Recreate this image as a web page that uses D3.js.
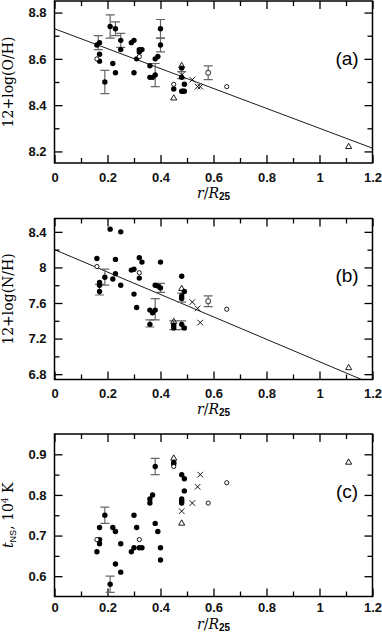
<!DOCTYPE html>
<html><head><meta charset="utf-8">
<script src="https://cdn.jsdelivr.net/npm/d3@7"></script>
<style>
html,body{margin:0;padding:0;background:#fff;}
svg{display:block;}
.tick text{font-family:"Liberation Sans",Arial,sans-serif;font-size:13px;font-weight:bold;fill:#111;}
</style></head>
<body>
<svg id="chart" width="382" height="635"></svg>
<script>
// ---------- data ----------
const xTicks = [0, 0.2, 0.4, 0.6, 0.8, 1, 1.2];
const xMinor = [0.1, 0.3, 0.5, 0.7, 0.9, 1.1];

// panel (a): 12+log(O/H)
const aYTicks = [8.2, 8.4, 8.6, 8.8];
const aYMinor = [8.3, 8.5, 8.7];
const aFilled = [[0.16,8.66],[0.17,8.67],[0.17,8.62],[0.17,8.59],[0.19,8.50],[0.21,8.74],[0.23,8.73],
  [0.22,8.58],[0.23,8.54],[0.25,8.68],[0.25,8.64],[0.29,8.67],[0.30,8.68],[0.30,8.54],[0.31,8.60],
  [0.32,8.63],[0.33,8.64],[0.32,8.64],[0.36,8.57],[0.36,8.52],[0.37,8.52],[0.38,8.53],[0.38,8.60],
  [0.39,8.61],[0.40,8.73],[0.40,8.66],[0.45,8.47],[0.48,8.56],[0.48,8.52],[0.49,8.49],[0.48,8.46],
  [0.485,8.46],[0.49,8.46]];
const aOpen = [[0.16,8.60],[0.32,8.61],[0.45,8.49],[0.65,8.48]];
const aTri = [[0.45,8.43],[0.48,8.57],[1.11,8.22]];
const aCross = [[0.48,8.53],[0.52,8.51],[0.54,8.48],[0.55,8.48]];
const aGray = [[0.58,8.54]];
const aErr = [[0.165,8.67,0.03],[0.19,8.50,0.05],[0.21,8.74,0.05],[0.23,8.73,0.03],[0.25,8.68,0.03],
  [0.38,8.53,0.05],[0.40,8.73,0.04],[0.40,8.66,0.03],[0.48,8.53,0.015],[0.58,8.54,0.03]];
const aFit = [8.73, -0.43];

// panel (b): 12+log(N/H)
const bYTicks = [6.8, 7.2, 7.6, 8, 8.4];
const bYMinor = [7.0, 7.4, 7.8, 8.2];
const bFilled = [[0.16,8.10],[0.17,7.83],[0.17,7.80],[0.17,7.73],[0.19,7.89],[0.21,8.43],[0.25,8.40],
  [0.23,8.09],[0.23,7.93],[0.22,7.87],[0.25,7.80],[0.29,7.97],[0.30,7.98],[0.32,8.11],[0.33,8.06],
  [0.32,7.88],[0.30,7.70],[0.31,7.55],[0.40,8.06],[0.38,7.80],[0.39,7.79],[0.40,7.77],[0.36,7.52],
  [0.37,7.49],[0.38,7.52],[0.36,7.36],[0.45,7.35],[0.45,7.32],[0.48,7.36],[0.49,7.32],[0.48,7.90],
  [0.49,7.73],[0.48,7.68],[0.48,7.65]];
const bOpen = [[0.16,8.01],[0.32,7.94],[0.65,7.53]];
const bTri = [[0.48,7.76],[0.45,7.39],[1.11,6.87]];
const bCross = [[0.52,7.61],[0.54,7.54],[0.55,7.38]];
const bGray = [[0.58,7.62]];
const bErr = [[0.19,7.89,0.09],[0.17,7.75,0.06],[0.40,7.77,0.05],[0.38,7.53,0.12],[0.36,7.37,0.04],
  [0.45,7.35,0.05],[0.48,7.35,0.05],[0.48,7.66,0.05],[0.58,7.62,0.06]];
const bFit = [8.20, -1.26];

// panel (c): t_NS, 10^4 K
const cYTicks = [0.6, 0.7, 0.8, 0.9];
const cYMinor = [0.65, 0.75, 0.85];
const cFilled = [[0.38,0.87],[0.37,0.80],[0.36,0.79],[0.36,0.78],[0.19,0.75],[0.30,0.75],[0.38,0.73],
  [0.17,0.72],[0.22,0.72],[0.23,0.71],[0.31,0.72],[0.39,0.71],[0.17,0.69],[0.17,0.68],[0.16,0.66],
  [0.25,0.68],[0.29,0.66],[0.30,0.67],[0.32,0.67],[0.33,0.67],[0.40,0.67],[0.40,0.64],[0.23,0.63],
  [0.25,0.61],[0.21,0.58],[0.45,0.88],[0.45,0.876],[0.48,0.85],[0.49,0.84],[0.49,0.81],[0.48,0.79],
  [0.48,0.785],[0.48,0.78]];
const cOpen = [[0.16,0.69],[0.32,0.69],[0.45,0.87],[0.58,0.78],[0.65,0.83]];
const cTri = [[0.45,0.89],[0.48,0.73],[1.11,0.88]];
const cCross = [[0.55,0.85],[0.54,0.82],[0.52,0.78],[0.48,0.76]];
const cGray = [];
const cErr = [[0.38,0.87,0.02],[0.19,0.75,0.02],[0.21,0.58,0.02]];

// ---------- drawing ----------
const svg = d3.select("#chart");
const left = 54.5, right = 372.5;
const x = d3.scaleLinear().domain([0, 1.2]).range([left, right]);

const panels = [
  {top: 1, bottom: 163, dom: [8.15, 8.85], yT: aYTicks, yM: aYMinor, filled: aFilled, open: aOpen, tri: aTri,
   cross: aCross, gray: aGray, err: aErr, fit: aFit, tag: "(a)", title: "12+log(O/H)", pad: 10, tpad: 35},
  {top: 218.5, bottom: 379.5, dom: [6.74, 8.55], yT: bYTicks, yM: bYMinor, filled: bFilled, open: bOpen, tri: bTri,
   cross: bCross, gray: bGray, err: bErr, fit: bFit, tag: "(b)", title: "12+log(N/H)", pad: 9, tpad: 34},
  {top: 434, bottom: 596.5, dom: [0.55, 0.95], yT: cYTicks, yM: cYMinor, filled: cFilled, open: cOpen, tri: cTri,
   cross: cCross, gray: cGray, err: cErr, fit: null, tag: "(c)", title: null, pad: 6, tpad: 32}
];

const fmt = v => String(v);

panels.forEach((p, i) => {
  const y = d3.scaleLinear().domain(p.dom).range([p.bottom, p.top]);
  const g = svg.append("g");
  const clipId = "clip" + i;
  svg.append("clipPath").attr("id", clipId).append("rect")
    .attr("x", left).attr("y", p.top).attr("width", right - left).attr("height", p.bottom - p.top);

  // axes (ticks inward)
  const ax = (gen, tr) => {
    const a = g.append("g").attr("transform", tr).call(gen);
    a.select(".domain").remove();
    a.selectAll("line").attr("stroke", "#000").attr("stroke-width", 1.3);
    return a;
  };
  ax(d3.axisBottom(x).tickValues(xTicks).tickSize(-8).tickPadding(p.pad).tickFormat(fmt), `translate(0,${p.bottom})`);
  ax(d3.axisBottom(x).tickValues(xMinor).tickSize(-5).tickFormat(""), `translate(0,${p.bottom})`);
  ax(d3.axisTop(x).tickValues(xTicks).tickSize(-8).tickFormat(""), `translate(0,${p.top})`);
  ax(d3.axisTop(x).tickValues(xMinor).tickSize(-5).tickFormat(""), `translate(0,${p.top})`);
  ax(d3.axisLeft(y).tickValues(p.yT).tickSize(-8).tickPadding(8).tickFormat(fmt), `translate(${left},0)`);
  ax(d3.axisLeft(y).tickValues(p.yM).tickSize(-5).tickFormat(""), `translate(${left},0)`);
  ax(d3.axisRight(y).tickValues(p.yT).tickSize(-8).tickFormat(""), `translate(${right},0)`);
  ax(d3.axisRight(y).tickValues(p.yM).tickSize(-5).tickFormat(""), `translate(${right},0)`);

  g.append("rect").attr("x", left).attr("y", p.top).attr("width", right - left).attr("height", p.bottom - p.top)
    .attr("fill", "none").attr("stroke", "#000").attr("stroke-width", 1.5);

  const plot = g.append("g").attr("clip-path", `url(#${clipId})`);

  // fit line
  if (p.fit) {
    const fx = [0, 1.2];
    plot.append("line")
      .attr("x1", x(fx[0])).attr("y1", y(p.fit[0] + p.fit[1] * fx[0]))
      .attr("x2", x(fx[1])).attr("y2", y(p.fit[0] + p.fit[1] * fx[1]))
      .attr("stroke", "#000").attr("stroke-width", 0.9);
  }

  // error bars
  const eg = plot.append("g").attr("stroke", "#666").attr("stroke-width", 1.2);
  p.err.forEach(([r, v, e]) => {
    const cx = x(r);
    eg.append("line").attr("x1", cx).attr("x2", cx).attr("y1", y(v - e)).attr("y2", y(v + e));
    eg.append("line").attr("x1", cx - 4.5).attr("x2", cx + 4.5).attr("y1", y(v - e)).attr("y2", y(v - e));
    eg.append("line").attr("x1", cx - 4.5).attr("x2", cx + 4.5).attr("y1", y(v + e)).attr("y2", y(v + e));
  });

  // markers
  plot.append("g").selectAll("circle").data(p.filled).join("circle")
    .attr("cx", d => x(d[0])).attr("cy", d => y(d[1])).attr("r", 2.7).attr("fill", "#000");
  plot.append("g").selectAll("circle").data(p.open).join("circle")
    .attr("cx", d => x(d[0])).attr("cy", d => y(d[1])).attr("r", 2.1)
    .attr("fill", "#fff").attr("stroke", "#000").attr("stroke-width", 0.9);
  plot.append("g").selectAll("circle").data(p.gray).join("circle")
    .attr("cx", d => x(d[0])).attr("cy", d => y(d[1])).attr("r", 2.4)
    .attr("fill", "#fff").attr("stroke", "#555").attr("stroke-width", 1.1);
  const tri = d3.symbol().type(d3.symbolTriangle).size(16);
  plot.append("g").selectAll("path").data(p.tri).join("path")
    .attr("d", tri).attr("transform", d => `translate(${x(d[0])},${y(d[1])})`)
    .attr("fill", "none").attr("stroke", "#000").attr("stroke-width", 0.9);
  const cr = d3.symbol().type(d3.symbolX).size(22);
  plot.append("g").selectAll("path").data(p.cross).join("path")
    .attr("d", cr).attr("transform", d => `translate(${x(d[0])},${y(d[1])})`)
    .attr("fill", "none").attr("stroke", "#000").attr("stroke-width", 0.9);

  // panel tag
  g.append("text").attr("x", 347).attr("y", (p.top + p.bottom) / 2 - 24)
    .attr("text-anchor", "middle").attr("dominant-baseline", "central")
    .attr("font-family", "Liberation Sans, Arial, sans-serif").attr("font-size", 19)
    .text(p.tag);

  // x title
  const xt = g.append("text").attr("x", (left + right) / 2).attr("y", p.bottom + p.tpad)
    .attr("text-anchor", "middle").attr("font-size", 14);
  xt.append("tspan").attr("font-family", "DejaVu Serif, serif").attr("font-style", "italic").text("r");
  xt.append("tspan").attr("font-family", "DejaVu Serif, serif").text("/");
  xt.append("tspan").attr("font-family", "DejaVu Serif, serif").attr("font-style", "italic").text("R");
  xt.append("tspan").attr("font-family", "Liberation Sans, Arial, sans-serif").attr("font-weight", "bold")
    .attr("font-size", 10).attr("dy", 2).text("25");

  // y title
  const cy = (p.top + p.bottom) / 2;
  const yt = g.append("text").attr("transform", `translate(13,${cy}) rotate(-90)`)
    .attr("text-anchor", "middle").attr("font-size", 14).attr("font-family", "DejaVu Serif, serif");
  if (p.title) {
    yt.text(p.title);
  } else {
    yt.append("tspan").attr("font-style", "italic").attr("font-size", 14).text("t");
    yt.append("tspan").attr("font-family", "Liberation Sans, Arial, sans-serif").attr("font-size", 9)
      .attr("dy", 3).text("NS");
    yt.append("tspan").attr("dy", -3).text(", 10");
    yt.append("tspan").attr("font-size", 9).attr("dy", -5).text("4");
    yt.append("tspan").attr("dy", 5).text(" K");
  }
});
</script>
</body></html>
